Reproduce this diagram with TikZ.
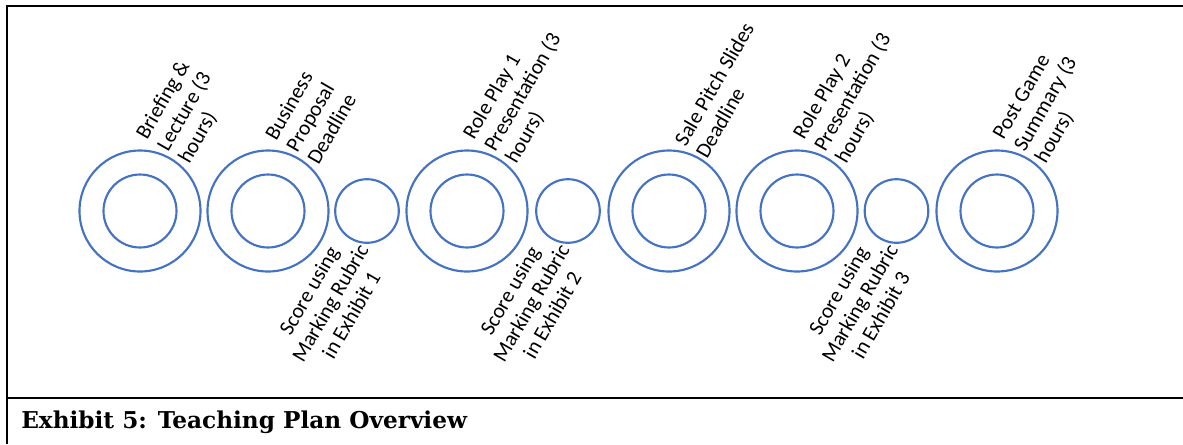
\documentclass[tikz,border=0pt]{standalone}
\usepackage{fontspec}
\setmainfont{Carlito}
\newfontfamily\titlefont{DejaVu Serif}
\definecolor{ringblue}{RGB}{68,114,196}

\begin{document}
\begin{tikzpicture}[x=0.75pt,y=-0.75pt,
	ring/.style={circle,draw=ringblue,line width=1.6pt,inner sep=0pt,minimum size=90.75pt},
	core/.style={ring,minimum size=54.75pt},
	dot/.style={ring,minimum size=47.7pt},
	toplabel/.style={rotate=60,anchor=west,align=left,inner sep=0pt,font=\fontsize{16}{18.3}\selectfont},
	botlabel/.style={rotate=60,anchor=center,align=center,inner sep=0pt,font=\fontsize{16}{18.3}\selectfont}]%[font=\small]
\useasboundingbox (0,0) rectangle (1183,444);
\draw[line width=1.6pt] (1183,6) -- (7,6) -- (7,444);
\draw[line width=1.6pt] (7,398) -- (1183,398);
% big rings
\node[ring] (brief) at (140,211) {};
\node[core] at (brief) {};
\node[ring] (biz) at (268,211) {};
\node[core] at (biz) {};
\node[ring] (rp1) at (467,211) {};
\node[core] at (rp1) {};
\node[ring] (sale) at (669,211) {};
\node[core] at (sale) {};
\node[ring] (rp2) at (797,211) {};
\node[core] at (rp2) {};
\node[ring] (post) at (997,211) {};
\node[core] at (post) {};
% scoring dots
\node[dot] (sc1) at (367,211) {};
\node[dot] (sc2) at (568,211) {};
\node[dot] (sc3) at (896.5,211) {};
%\draw (0,211) -- (1183,211);
\node[toplabel] (Lbrief) at (163,150) {Briefing \&\\Lecture (3\\hours)};
\node[toplabel] (Lbiz) at (291,150) {Business\\Proposal\\Deadline};
\node[toplabel] (Lrp1) at (490,150) {Role Play 1\\Presentation (3\\hours)};
\node[toplabel] (Lsale) at (690,150) {Sale Pitch Slides\\Deadline};
\node[toplabel] (Lrp2) at (820,150) {Role Play 2\\Presentation (3\\hours)};
\node[toplabel] (Lpost) at (1020,150) {Post Game\\Summary (3\\hours)};
\node[botlabel] (Lsc1) at (330,303) {Score using\\Marking Rubric\\in Exhibit 1};
\node[botlabel] (Lsc2) at (531,303) {Score using\\Marking Rubric\\in Exhibit 2};
\node[botlabel] (Lsc3) at (859.5,303) {Score using\\Marking Rubric\\in Exhibit 3};
\node[anchor=base west,inner sep=0pt,font=\titlefont\bfseries\fontsize{17.4}{20}\selectfont] (title) at (21,428) {Exhibit 5: Teaching Plan Overview};
\end{tikzpicture}
\end{document}
